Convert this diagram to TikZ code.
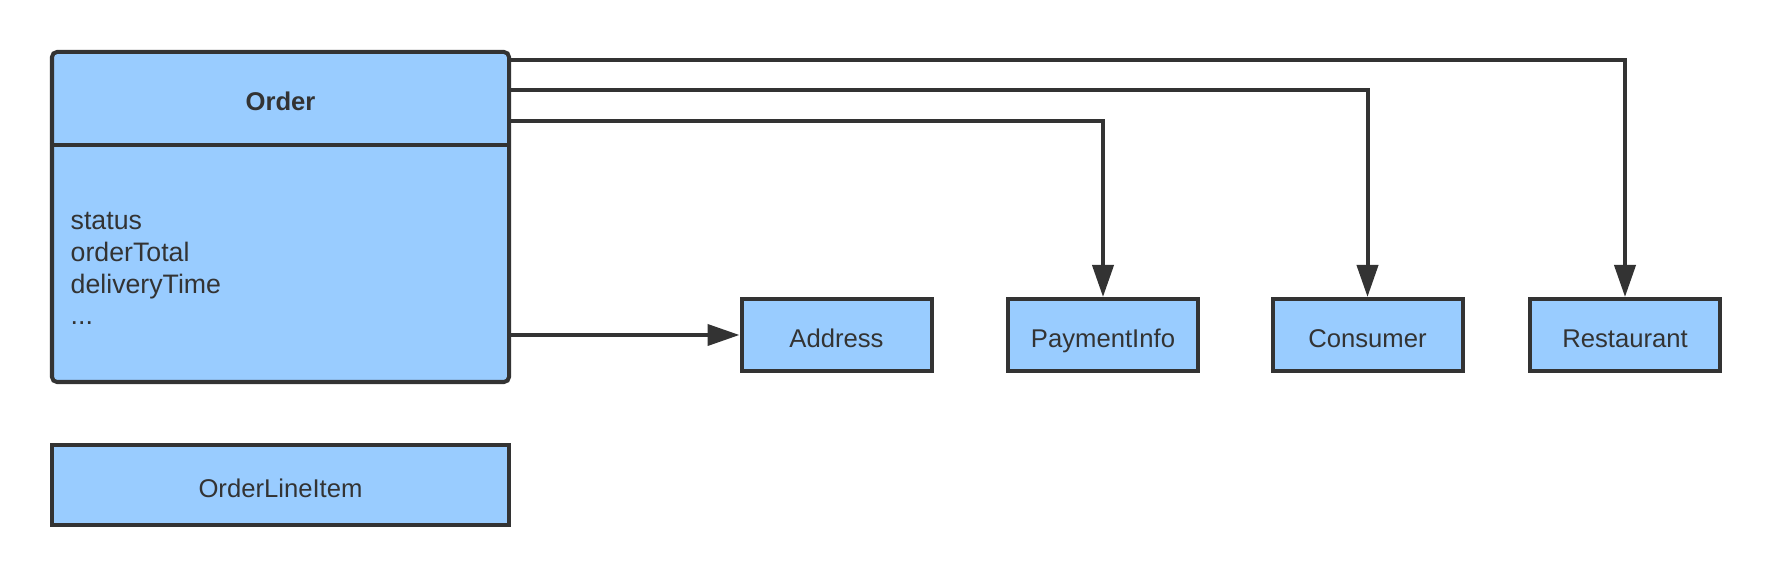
\documentclass[tikz,border=0pt]{standalone}
\usepackage{fontspec}
\setmainfont{Liberation Sans}
\usetikzlibrary{arrows.meta,positioning}
\definecolor{boxfill}{HTML}{99CCFF}
\definecolor{boxline}{HTML}{333333}
\tikzstyle{link} = [draw,boxline,line width=1.14pt,-{Triangle[length=0.32cm,width=0.21cm]}]

\begin{document}
\begin{tikzpicture}
[entity/.style={shape=rectangle,draw=boxline,line width=1.14pt,fill=boxfill,minimum width=1.90cm,minimum height=0.72cm,inner sep=0pt,text=boxline,font=\fontsize{7.3}{9}\selectfont,text height=7pt,text depth=0pt},
aggregate/.style={entity,rounded corners=0.05cm,minimum width=4.57cm,minimum height=3.30cm}]

\useasboundingbox (0,0) rectangle (17.72,-5.78);

%% aggregate root
\node (Order) at (2.805,-2.17) [aggregate] {};
\draw[boxline,line width=1.14pt] (Order.west |- 0,-1.45) -- (Order.east |- 0,-1.45);
\node (OrderTitle) at (2.805,-1.01) [text=boxline,font=\bfseries\fontsize{7.3}{9}\selectfont,text height=5.3pt,text depth=0pt,inner sep=0pt] {Order};
\node (OrderFields) at (0.70,-3.25) [anchor=base west,align=left,inner sep=0pt,text=boxline,font=\fontsize{7.6}{9.07}\selectfont] {status\\orderTotal\\deliveryTime\\...};

%% other entities
\foreach \nodename/\x in {Address/8.365, PaymentInfo/11.03, Consumer/13.675, Restaurant/16.25}
{
\node (\nodename) at (\x,-3.35) [entity] {\nodename};
}
\node (OrderLineItem) at (2.805,-4.85) [entity,minimum width=4.57cm,minimum height=0.80cm] {OrderLineItem};

%% references
\draw[link] ([yshift=-0.1cm]Order.north east) -| (Restaurant.north);
\draw[link] ([yshift=-0.4cm]Order.north east) -| (Consumer.north);
\draw[link] ([yshift=-0.71cm]Order.north east) -| (PaymentInfo.north);
\draw[link] (Order.east |- Address.west) -- (Address.west);

\end{tikzpicture}
\end{document}
